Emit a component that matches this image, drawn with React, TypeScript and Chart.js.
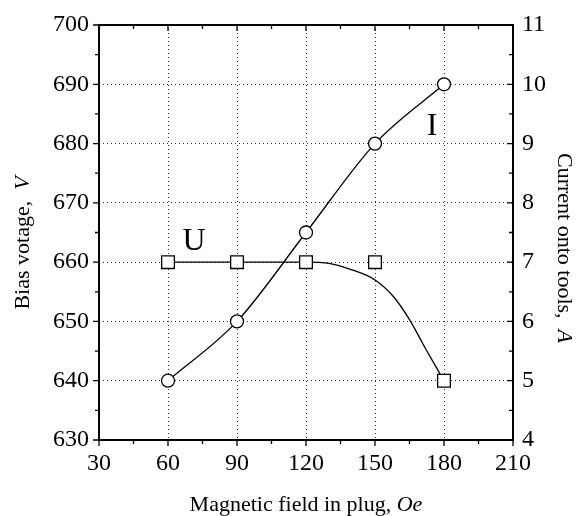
import React, { useEffect, useRef } from "react";
import { Chart, registerables } from "chart.js";
Chart.register(...registerables);

// Data
const fieldValues = [60, 90, 120, 150, 180]; // Oe
const biasVoltage = [660, 660, 660, 660, 640]; // V (left axis) - squares "U"
const toolCurrent = [5, 6, 7.5, 9, 10]; // A (right axis) - circles "I"
// smooth fit curve for U as drawn in the picture
const biasFitField = [60, 90, 120, 130, 140, 150, 158, 165, 172, 180];
const biasFitVoltage = [660, 660, 660, 659.8, 658.7, 657, 654.2, 650.3, 645.4, 640];

const xTickValues = [30, 60, 90, 120, 150, 180, 210];
const leftTickValues = [630, 640, 650, 660, 670, 680, 690, 700];
const rightTickValues = [4, 5, 6, 7, 8, 9, 10, 11];

const SERIF = '"Liberation Serif"';

const framePlugin = {
  id: "framePlugin",
  beforeDatasetsDraw(chart: any) {
    const { ctx, chartArea } = chart;
    const { left, right, top, bottom } = chartArea;
    const xs = chart.scales.x;
    const yl = chart.scales.y;
    ctx.save();
    ctx.strokeStyle = "#000";
    ctx.lineWidth = 1.3;
    const MAJ = 6;
    const MIN = 4;
    ctx.beginPath();
    for (let v = xs.min; v <= xs.max + 0.001; v += 15) {
      const px = xs.getPixelForValue(v);
      const len = (v - xs.min) % 30 === 0 ? MAJ : MIN;
      ctx.moveTo(px, bottom);
      ctx.lineTo(px, bottom + len);
      ctx.moveTo(px, top);
      ctx.lineTo(px, top + len);
    }
    for (let v = yl.min; v <= yl.max + 0.001; v += 5) {
      const py = yl.getPixelForValue(v);
      const len = (v - yl.min) % 10 === 0 ? MAJ : MIN;
      ctx.moveTo(left, py);
      ctx.lineTo(left - len, py);
      ctx.moveTo(right, py);
      ctx.lineTo(right - len, py);
    }
    ctx.stroke();
    ctx.lineWidth = 2;
    ctx.strokeRect(left, top, right - left, bottom - top);
    ctx.restore();
  },
  afterDraw(chart: any) {
    const { ctx } = chart;
    const xs = chart.scales.x;
    const yl = chart.scales.y;
    const yr = chart.scales.y2;
    ctx.save();
    ctx.fillStyle = "#000";
    const drawMixed = (parts: [string, boolean][], size: number) => {
      let total = 0;
      const widths = parts.map(([t, it]) => {
        ctx.font = `${it ? "italic " : ""}${size}px ${SERIF}`;
        const w = ctx.measureText(t).width;
        total += w;
        return w;
      });
      let x = -total / 2;
      parts.forEach(([t, it], i) => {
        ctx.font = `${it ? "italic " : ""}${size}px ${SERIF}`;
        ctx.fillText(t, x, 0);
        x += widths[i];
      });
    };
    ctx.textAlign = "left";
    ctx.textBaseline = "alphabetic";
    ctx.save();
    ctx.translate(306, 511);
    drawMixed([["Magnetic field in plug, ", false], ["Oe", true]], 22);
    ctx.restore();
    ctx.save();
    ctx.translate(29, 243);
    ctx.rotate(-Math.PI / 2);
    drawMixed([["Bias votage,  ", false], ["V", true]], 22);
    ctx.restore();
    ctx.save();
    ctx.translate(558, 248);
    ctx.rotate(Math.PI / 2);
    drawMixed([["Current onto tools,  ", false], ["A", true]], 22);
    ctx.restore();
    ctx.font = `32px ${SERIF}`;
    ctx.textAlign = "center";
    ctx.fillText("U", xs.getPixelForValue(71.3), yl.getPixelForValue(662.05));
    ctx.fillText("I", xs.getPixelForValue(174.8), yr.getPixelForValue(9.145));
    ctx.restore();
  },
};

const gridColor = (edgeVals: number[]) => (c: any) =>
  c.tick && edgeVals.includes(c.tick.value) ? "rgba(0,0,0,0)" : "#333";

export default function App() {
  const ref = useRef<HTMLCanvasElement | null>(null);
  useEffect(() => {
    let chart: Chart | null = null;
    let cancelled = false;
    const build = () => {
      if (cancelled || !ref.current) return;
      chart = new Chart(ref.current, {
        type: "scatter",
        data: {
          datasets: [
            {
              label: "U fit",
              data: biasFitField.map((x, i) => ({ x, y: biasFitVoltage[i] })),
              yAxisID: "y",
              showLine: true,
              borderColor: "#000",
              borderWidth: 1.3,
              pointRadius: 0,
              cubicInterpolationMode: "monotone",
              order: 2,
            } as any,
            {
              label: "I",
              data: fieldValues.map((x, i) => ({ x, y: toolCurrent[i] })),
              yAxisID: "y2",
              showLine: true,
              borderColor: "#000",
              borderWidth: 1.3,
              pointRadius: 6.5,
              pointBackgroundColor: "#fff",
              pointBorderColor: "#000",
              pointBorderWidth: 1.3,
              cubicInterpolationMode: "monotone",
              order: 1,
            } as any,
            {
              label: "U",
              data: fieldValues.map((x, i) => ({ x, y: biasVoltage[i] })),
              yAxisID: "y",
              showLine: false,
              pointStyle: "rect",
              pointRadius: 9,
              pointBackgroundColor: "#fff",
              pointBorderColor: "#000",
              pointBorderWidth: 1.3,
              order: 0,
            } as any,
          ],
        },
        options: {
          animation: false,
          responsive: false,
          layout: { padding: { top: 25, left: 0, right: 0, bottom: 0 } },
          plugins: { legend: { display: false }, tooltip: { enabled: false } },
          scales: {
            x: {
              type: "linear",
              min: 30,
              max: 210,
              afterBuildTicks: (s: any) => {
                s.ticks = xTickValues.map((v) => ({ value: v }));
              },
              afterFit: (s: any) => {
                s.height = 76;
              },
              ticks: {
                color: "#000",
                font: { family: SERIF, size: 24 },
                padding: 9,
                maxRotation: 0,
              },
              grid: { drawTicks: false, color: gridColor([30, 210]), lineWidth: 1 },
              border: { display: false, dash: [1, 3] },
            },
            y: {
              type: "linear",
              position: "left",
              min: 630,
              max: 700,
              afterBuildTicks: (s: any) => {
                s.ticks = leftTickValues.map((v) => ({ value: v }));
              },
              afterFit: (s: any) => {
                s.width = 99;
              },
              ticks: { color: "#000", font: { family: SERIF, size: 24 }, padding: 10 },
              grid: { drawTicks: false, color: gridColor([630, 700]), lineWidth: 1 },
              border: { display: false, dash: [1, 3] },
            },
            y2: {
              type: "linear",
              position: "right",
              min: 4,
              max: 11,
              afterBuildTicks: (s: any) => {
                s.ticks = rightTickValues.map((v) => ({ value: v }));
              },
              afterFit: (s: any) => {
                s.width = 66;
              },
              ticks: { color: "#000", font: { family: SERIF, size: 24 }, padding: 9 },
              grid: { display: false, drawTicks: false },
              border: { display: false },
            },
          },
        } as any,
        plugins: [framePlugin],
      });
    };
    const fonts: any = (document as any).fonts;
    if (fonts && fonts.load) {
      Promise.all([
        fonts.load(`24px "Liberation Serif"`),
        fonts.load(`italic 22px "Liberation Serif"`),
      ])
        .catch(() => null)
        .then(() => (fonts.ready ? fonts.ready : null))
        .then(() => build());
    } else {
      build();
    }
    return () => {
      cancelled = true;
      if (chart) chart.destroy();
    };
  }, []);
  return (
    <div style={{ position: "absolute", left: 0, top: 0, width: 579, height: 516, background: "#fff" }}>
      <canvas ref={ref} width={579} height={516} style={{ display: "block" }} />
    </div>
  );
}
